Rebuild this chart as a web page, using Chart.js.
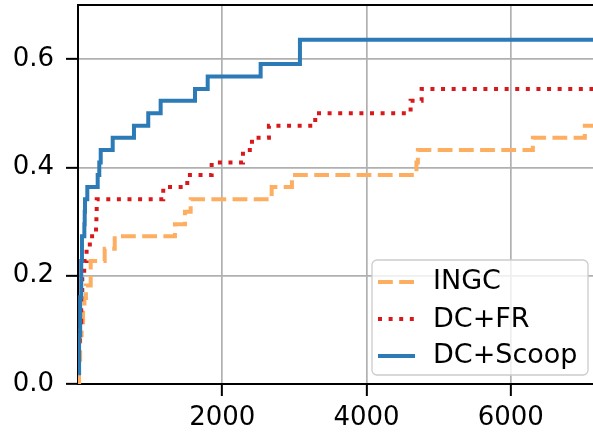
<!DOCTYPE html>
<html>
<head>
<meta charset="utf-8">
<script src="https://cdn.jsdelivr.net/npm/chart.js@4/dist/chart.umd.min.js"></script>
<style>
  html, body { margin: 0; padding: 0; background: #fff; }
  #wrap { width: 593px; height: 439px; }
</style>
</head>
<body>
<div id="wrap"><canvas id="chart" width="593" height="439"></canvas></div>
<script>
// step curves: value y[i] holds from x[i] until the next x
const ingcX = [0, 15, 30, 50, 70, 89, 110, 176, 370, 509, 1344, 1483, 1562, 2685, 2966, 4692, 4712, 6306, 7027, 7140];
const ingcY = [0.0, 0.045, 0.09, 0.114, 0.136, 0.159, 0.182, 0.227, 0.25, 0.273, 0.295, 0.318, 0.341, 0.364, 0.386, 0.409, 0.432, 0.455, 0.477, 0.477];

const dcfrX = [0, 25, 45, 59, 86, 119, 164, 250, 255, 259, 1182, 1515, 1853, 2287, 2412, 2647, 3289, 4611, 4764, 7140];
const dcfrY = [0.08, 0.114, 0.16, 0.205, 0.227, 0.25, 0.273, 0.295, 0.318, 0.341, 0.364, 0.386, 0.409, 0.432, 0.455, 0.477, 0.5, 0.523, 0.545, 0.545];

const scoopX = [0, 15, 30, 45, 55, 88, 93, 97, 129, 273, 295, 315, 481, 776, 974, 1146, 1622, 1798, 2532, 3077, 7140];
const scoopY = [0.02, 0.09, 0.16, 0.227, 0.273, 0.295, 0.318, 0.341, 0.364, 0.386, 0.409, 0.432, 0.455, 0.477, 0.5, 0.523, 0.545, 0.568, 0.591, 0.636, 0.636];

const xTicks = [2000, 4000, 6000];
const yTicks = [0.0, 0.2, 0.4, 0.6];

const FONT = "'DejaVu Sans', sans-serif";
const FONT_SIZE = 26;

function pts(xs, ys) {
    return xs.map((x, i) => ({ x: x, y: ys[i] }));
}

// top spine + legend box inside the plot
const framePlugin = {
    id: 'frame',
    afterDatasetsDraw(chart) {
        const ctx = chart.ctx;
        const a = chart.chartArea;
        ctx.save();
        ctx.strokeStyle = '#000';
        ctx.lineWidth = 2;
        ctx.beginPath();
        ctx.moveTo(a.left - 1, a.top);
        ctx.lineTo(a.right, a.top);
        ctx.stroke();
        ctx.restore();
    },
    afterDraw(chart) {
        const ctx = chart.ctx;
        const bx = 372, by = 260, bw = 216, bh = 115;
        ctx.save();
        ctx.fillStyle = 'rgba(255,255,255,0.8)';
        ctx.strokeStyle = '#cccccc';
        ctx.lineWidth = 1.3;
        ctx.beginPath();
        ctx.roundRect(bx, by, bw, bh, 5);
        ctx.fill();
        ctx.stroke();

        const handleY = [282, 319, 356];
        const baseY = [289, 327, 363];
        chart.data.datasets.forEach((ds, i) => {
            ctx.strokeStyle = ds.borderColor;
            ctx.lineWidth = ds.borderWidth;
            ctx.setLineDash(ds.borderDash || []);
            ctx.beginPath();
            ctx.moveTo(378, handleY[i]);
            ctx.lineTo(415, handleY[i]);
            ctx.stroke();
            ctx.setLineDash([]);
            ctx.fillStyle = '#000';
            ctx.font = '27px ' + FONT;
            ctx.textBaseline = 'alphabetic';
            ctx.fillText(ds.label, 433, baseY[i]);
        });
        ctx.restore();
    }
};

new Chart(document.getElementById('chart'), {
    type: 'line',
    data: {
        datasets: [
            {
                label: 'INGC',
                data: pts(ingcX, ingcY),
                borderColor: '#fdae61',
                borderWidth: 4,
                borderDash: [14.8, 6.4],
                stepped: 'before',
                pointRadius: 0,
                order: 2
            },
            {
                label: 'DC+FR',
                data: pts(dcfrX, dcfrY),
                borderColor: '#d7191c',
                borderWidth: 4,
                borderDash: [4, 6.6],
                stepped: 'before',
                pointRadius: 0,
                order: 1
            },
            {
                label: 'DC+Scoop',
                data: pts(scoopX, scoopY),
                borderColor: '#2c7bb6',
                borderWidth: 4,
                stepped: 'before',
                pointRadius: 0,
                order: 0
            }
        ]
    },
    options: {
        responsive: false,
        animation: false,
        devicePixelRatio: 1,
        layout: { padding: { top: 5, right: 0, left: 0, bottom: 0 } },
        plugins: {
            legend: { display: false },
            tooltip: { enabled: false }
        },
        scales: {
            x: {
                type: 'linear',
                min: 0,
                max: 7140,
                afterBuildTicks: s => { s.ticks = xTicks.map(v => ({ value: v })); },
                afterFit: s => {
                    s.height = 55;
                    s.paddingLeft = 0;
                    s.paddingRight = 0;
                },
                ticks: {
                    color: '#000',
                    font: { family: FONT, size: FONT_SIZE },
                    padding: 7,
                    maxRotation: 0,
                    callback: v => String(v)
                },
                grid: {
                    color: '#b0b0b0',
                    lineWidth: 1.7,
                    tickColor: '#000',
                    tickWidth: 2,
                    tickLength: 12
                },
                border: { color: '#000', width: 2 }
            },
            y: {
                min: 0,
                max: 0.7,
                afterBuildTicks: s => { s.ticks = yTicks.map(v => ({ value: v })); },
                afterFit: s => {
                    s.width = 78;
                    s.paddingTop = 0;
                    s.paddingBottom = 0;
                },
                ticks: {
                    color: '#000',
                    font: { family: FONT, size: FONT_SIZE },
                    padding: 12,
                    callback: v => v.toFixed(1)
                },
                grid: {
                    color: '#b0b0b0',
                    lineWidth: 1.7,
                    tickColor: '#000',
                    tickWidth: 2,
                    tickLength: 12
                },
                border: { color: '#000', width: 2 }
            }
        }
    },
    plugins: [framePlugin]
});
</script>
</body>
</html>
